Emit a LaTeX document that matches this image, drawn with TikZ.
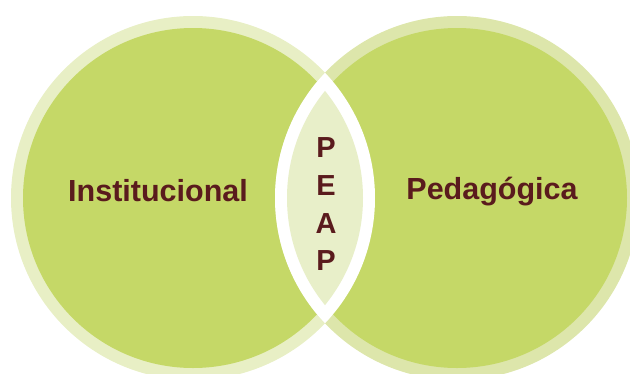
\documentclass[tikz,border=0pt]{standalone}
\usepackage{fontspec}
\setmainfont{Liberation Sans}
\definecolor{ringL}{HTML}{E8EFC5}
\definecolor{ringR}{HTML}{DDE6AB}
\definecolor{leaf}{HTML}{C5D867}
\definecolor{lens}{HTML}{E8EFC9}
\definecolor{ink}{HTML}{5A1B1D}
\begin{document}
\begin{tikzpicture}[x=1pt,y=-1pt,
  lab/.style={font=\bfseries\fontsize{30.5}{36}\selectfont, text=ink, inner sep=0pt, anchor=base},
  letter/.style={font=\bfseries\fontsize{29}{34}\selectfont, text=ink, inner sep=0pt, anchor=base}]
\useasboundingbox (0,0) rectangle (630,373);
\coordinate (cL) at (193,198);
\coordinate (cR) at (457,198);
\fill[ringL] (cL) circle[radius=182];
\fill[leaf] (cL) circle[radius=170];
\fill[ringR] (cR) circle[radius=182];
\fill[leaf] (cR) circle[radius=170];
\begin{scope}
  \clip (cL) circle[radius=182];
  \fill[white] (cR) circle[radius=182];
\end{scope}
\begin{scope}
  \clip (cL) circle[radius=170];
  \fill[lens] (cR) circle[radius=170];
\end{scope}
\node[lab] (inst) at (158,201) {Institucional};
\node[lab] (ped) at (492,199) {Pedagógica};
\node[letter] (p1) at (326,157) {P};
\node[letter] (e1) at (326,195) {E};
\node[letter] (a1) at (326,233) {A};
\node[letter] (p2) at (326,270) {P};
\end{tikzpicture}
\end{document}
